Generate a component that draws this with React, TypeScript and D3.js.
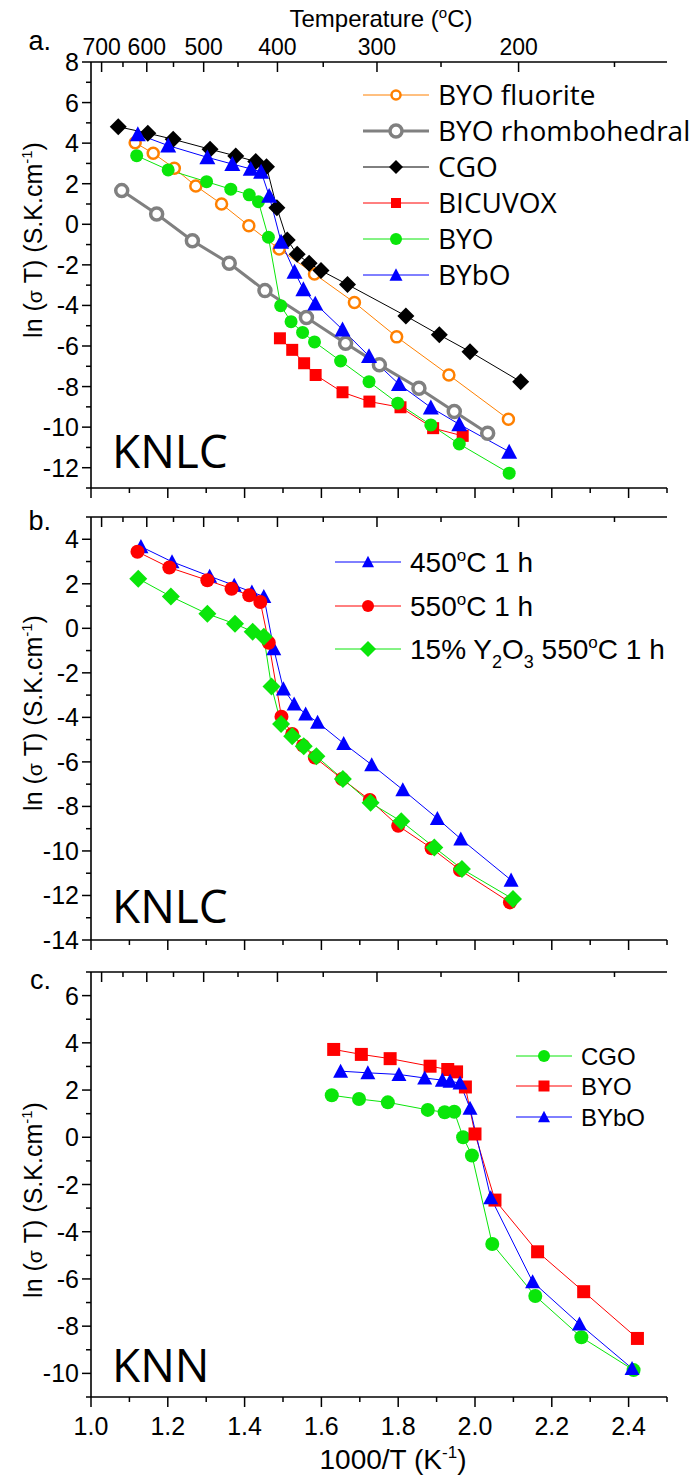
import React from 'react';
import * as d3 from 'd3';

// ---- shared axes ----
const xMajor = [1.0, 1.2, 1.4, 1.6, 1.8, 2.0, 2.2, 2.4];
const xMinor = [1.1, 1.3, 1.5, 1.7, 1.9, 2.1, 2.3, 2.5];
const xLabels = ['1.0', '1.2', '1.4', '1.6', '1.8', '2.0', '2.2', '2.4'];
const tempMajor = [700, 600, 500, 400, 300, 200];
const tempMinor = [650, 550, 450, 350, 250, 150];

// ---- panel a (KNLC, different materials) ----
const aYMajor = [8, 6, 4, 2, 0, -2, -4, -6, -8, -10, -12];
const aYMinor = [7, 5, 3, 1, -1, -3, -5, -7, -9, -11, -13];
const byoFluorite = [[1.115, 4.02], [1.162, 3.5], [1.217, 2.76], [1.273, 1.89], [1.34, 1.0], [1.411, -0.07], [1.49, -1.22], [1.582, -2.45], [1.686, -3.86], [1.796, -5.55], [1.932, -7.43], [2.087, -9.61]];
const byoRhombo = [[1.08, 1.66], [1.171, 0.51], [1.264, -0.81], [1.36, -1.92], [1.453, -3.27], [1.561, -4.6], [1.663, -5.86], [1.751, -6.93], [1.854, -8.08], [1.946, -9.23], [2.033, -10.3]];
const cgoA = [[1.071, 4.81], [1.148, 4.49], [1.214, 4.19], [1.31, 3.7], [1.377, 3.37], [1.429, 3.09], [1.457, 2.84], [1.484, 0.82], [1.511, -0.77], [1.537, -1.48], [1.568, -1.92], [1.599, -2.28], [1.668, -2.97], [1.82, -4.52], [1.907, -5.45], [1.987, -6.28], [2.119, -7.76]];
const bicuvox = [[1.492, -5.62], [1.524, -6.19], [1.555, -6.85], [1.585, -7.43], [1.655, -8.28], [1.725, -8.74], [1.806, -9.02], [1.891, -10.05], [1.968, -10.43]];
const byoA = [[1.119, 3.38], [1.201, 2.68], [1.301, 2.1], [1.364, 1.73], [1.412, 1.45], [1.436, 1.11], [1.462, -0.64], [1.494, -4.01], [1.521, -4.8], [1.551, -5.33], [1.582, -5.8], [1.65, -6.74], [1.724, -7.76], [1.799, -8.82], [1.885, -9.89], [1.959, -10.83], [2.089, -12.27]];
const bybA = [[1.122, 4.44], [1.201, 3.88], [1.303, 3.3], [1.368, 2.97], [1.416, 2.73], [1.443, 2.59], [1.464, 1.4], [1.495, -0.86], [1.53, -2.34], [1.553, -3.2], [1.584, -3.91], [1.655, -5.19], [1.724, -6.5], [1.802, -7.88], [1.885, -9.03], [1.959, -9.86], [2.089, -11.21]];

// ---- panel b (KNLC, sintering) ----
const bYMajor = [4, 2, 0, -2, -4, -6, -8, -10, -12, -14];
const bYMinor = [5, 3, 1, -1, -3, -5, -7, -9, -11, -13];
const b450 = [[1.13, 3.67], [1.211, 2.99], [1.309, 2.34], [1.373, 1.93], [1.419, 1.63], [1.45, 1.43], [1.476, -0.92], [1.501, -2.72], [1.529, -3.4], [1.559, -3.85], [1.59, -4.22], [1.658, -5.17], [1.731, -6.13], [1.812, -7.25], [1.902, -8.54], [1.963, -9.46], [2.094, -11.31]];
const b550 = [[1.121, 3.44], [1.204, 2.73], [1.303, 2.16], [1.366, 1.78], [1.412, 1.48], [1.441, 1.18], [1.463, -0.65], [1.496, -3.97], [1.524, -4.75], [1.552, -5.27], [1.583, -5.8], [1.654, -6.77], [1.726, -7.71], [1.8, -8.87], [1.887, -9.88], [1.961, -10.86], [2.091, -12.31]];
const b15 = [[1.123, 2.23], [1.208, 1.43], [1.303, 0.65], [1.375, 0.2], [1.421, -0.15], [1.45, -0.38], [1.47, -2.61], [1.495, -4.3], [1.524, -4.85], [1.554, -5.3], [1.587, -5.75], [1.656, -6.77], [1.728, -7.84], [1.808, -8.67], [1.894, -9.84], [1.966, -10.81], [2.099, -12.16]];

// ---- panel c (KNN) ----
const cYMajor = [6, 4, 2, 0, -2, -4, -6, -8, -10];
const cYMinor = [7, 5, 3, 1, -1, -3, -5, -7, -9, -11];
const cCgo = [[1.627, 1.78], [1.698, 1.62], [1.773, 1.48], [1.877, 1.16], [1.921, 1.06], [1.946, 1.08], [1.969, 0.0], [1.992, -0.77], [2.045, -4.52], [2.157, -6.72], [2.277, -8.47], [2.413, -9.86]];
const cByo = [[1.632, 3.72], [1.704, 3.51], [1.779, 3.33], [1.883, 3.01], [1.929, 2.87], [1.952, 2.77], [1.975, 2.13], [2.0, 0.14], [2.052, -2.66], [2.163, -4.85], [2.283, -6.54], [2.423, -8.52]];
const cByb = [[1.65, 2.8], [1.721, 2.73], [1.802, 2.66], [1.869, 2.51], [1.915, 2.42], [1.935, 2.37], [1.961, 2.3], [1.987, 1.23], [2.041, -2.56], [2.15, -6.12], [2.272, -7.91], [2.409, -9.79]];

const GREEN = '#0ae60a';
const ORANGE = '#ff8000';
const GRAY = '#808080';
const ARIAL = '"Liberation Sans", Arial, sans-serif';
const CAL = '"Open Sans", sans-serif';

const x = d3.scaleLinear().domain([1.0, 2.5]).range([91, 667]);
const invT = (t: number) => 1000 / (t + 273.15);

type Style = { shape: string; size: number; color: string; fill: string; sw: number; line: number; lineColor: string };

function Marker({ cx, cy, st, size }: { cx: number; cy: number; st: Style; size?: number }) {
  const s = size ?? st.size;
  const common = { fill: st.fill, stroke: st.color, strokeWidth: st.sw };
  if (st.shape === 'circle') return <circle cx={cx} cy={cy} r={s} {...common} />;
  let p = '';
  if (st.shape === 'square') p = `M${-s},${-s}H${s}V${s}H${-s}Z`;
  if (st.shape === 'diamond') p = `M0,${-s}L${s},0L0,${s}L${-s},0Z`;
  if (st.shape === 'triangle') { const h = s * 0.87; p = `M0,${-h / 2 - 1}L${s / 2},${h / 2}L${-s / 2},${h / 2}Z`; }
  return <path d={p} transform={`translate(${cx},${cy})`} {...common} />;
}

type Series = { data: number[][]; st: Style };

function Panel({ top, bottom, domain, major, minor, series, xLabelsOn, tempLabelsOn }:
  { top: number; bottom: number; domain: [number, number]; major: number[]; minor: number[]; series: Series[]; xLabelsOn: boolean; tempLabelsOn: boolean }) {
  const y = d3.scaleLinear().domain(domain).range([bottom, top]);
  const line = d3.line<number[]>().x(d => x(d[0])).y(d => y(d[1]));
  return (
    <g>
      {series.map((s, i) => (
        <path key={'l' + i} d={line(s.data) || ''} fill="none" stroke={s.st.lineColor} strokeWidth={s.st.line} />
      ))}
      {series.map((s, i) => (
        <g key={'m' + i}>
          {s.data.map((d, j) => <Marker key={j} cx={x(d[0])} cy={y(d[1])} st={s.st} />)}
        </g>
      ))}
      {/* axes */}
      <line x1={91} x2={91} y1={top} y2={bottom} stroke="#000" strokeWidth={1.6} />
      <line x1={91} x2={667} y1={bottom} y2={bottom} stroke="#000" strokeWidth={1.6} />
      <line x1={91} x2={667} y1={top} y2={top} stroke="#000" strokeWidth={1.6} />
      {major.map(v => (
        <g key={'ym' + v}>
          <line x1={82} x2={91} y1={y(v)} y2={y(v)} stroke="#000" strokeWidth={1.5} />
          <text x={79} y={y(v)} dy="0.36em" textAnchor="end" fontSize={25} fontFamily={ARIAL}>{v}</text>
        </g>
      ))}
      {minor.map(v => <line key={'yn' + v} x1={86} x2={91} y1={y(v)} y2={y(v)} stroke="#000" strokeWidth={1.5} />)}
      {xMajor.map((v, i) => (
        <g key={'xm' + v}>
          <line x1={x(v)} x2={x(v)} y1={bottom} y2={bottom + 10} stroke="#000" strokeWidth={1.5} />
          {xLabelsOn && <text x={x(v)} y={bottom + 38} textAnchor="middle" fontSize={25} fontFamily={ARIAL}>{xLabels[i]}</text>}
        </g>
      ))}
      {xMinor.map(v => <line key={'xn' + v} x1={x(v)} x2={x(v)} y1={bottom} y2={bottom + 5} stroke="#000" strokeWidth={1.5} />)}
      {tempMajor.map(t => (
        <g key={'tm' + t}>
          <line x1={x(invT(t))} x2={x(invT(t))} y1={top} y2={top + 10} stroke="#000" strokeWidth={1.5} />
          {tempLabelsOn && <text x={x(invT(t))} y={top - 7} textAnchor="middle" fontSize={23} fontFamily={ARIAL}>{t}</text>}
        </g>
      ))}
      {tempMinor.map(t => <line key={'tn' + t} x1={x(invT(t))} x2={x(invT(t))} y1={top} y2={top + 5} stroke="#000" strokeWidth={1.5} />)}
    </g>
  );
}

function YTitle({ cy }: { cy: number }) {
  return (
    <text transform={`translate(42,${cy}) rotate(-90)`} textAnchor="middle" fontSize={25} fontFamily={ARIAL}>
      ln (<tspan fontSize={21}>σ</tspan> T) (S.K.cm<tspan dy={-10} fontSize={15}>-1</tspan><tspan dy={10}>)</tspan>
    </text>
  );
}

function LegendItem({ x1, x2, y, st, label, size, font, fs }:
  { x1: number; x2: number; y: number; st: Style; label: React.ReactNode; size: number; font: string; fs: number }) {
  return (
    <g>
      <line x1={x1} x2={x2} y1={y} y2={y} stroke={st.lineColor} strokeWidth={st.line} />
      <Marker cx={(x1 + x2) / 2} cy={y} st={st} size={size} />
      <text x={x2 + 9} y={y} dy="0.36em" fontSize={fs} fontFamily={font}>{label}</text>
    </g>
  );
}

const sFluor: Style = { shape: 'circle', size: 5.5, color: ORANGE, fill: '#fff', sw: 2.5, line: 1, lineColor: ORANGE };
const sRhombo: Style = { shape: 'circle', size: 6, color: GRAY, fill: '#fff', sw: 3.5, line: 3, lineColor: GRAY };
const sCgo: Style = { shape: 'diamond', size: 8.5, color: '#000', fill: '#000', sw: 0, line: 1, lineColor: '#000' };
const sBicu: Style = { shape: 'square', size: 6, color: 'red', fill: 'red', sw: 0, line: 1, lineColor: 'red' };
const sByo: Style = { shape: 'circle', size: 6.5, color: GREEN, fill: GREEN, sw: 0, line: 1, lineColor: GREEN };
const sByb: Style = { shape: 'triangle', size: 16, color: 'blue', fill: 'blue', sw: 0, line: 1, lineColor: 'blue' };

const sB450: Style = { shape: 'triangle', size: 15, color: 'blue', fill: 'blue', sw: 0, line: 1, lineColor: 'blue' };
const sB550: Style = { shape: 'circle', size: 7, color: 'red', fill: 'red', sw: 0, line: 1, lineColor: 'red' };
const sB15: Style = { shape: 'diamond', size: 9, color: GREEN, fill: GREEN, sw: 0, line: 1, lineColor: GREEN };

const sCCgo: Style = { shape: 'circle', size: 7, color: GREEN, fill: GREEN, sw: 0, line: 1, lineColor: GREEN };
const sCByo: Style = { shape: 'square', size: 6.5, color: 'red', fill: 'red', sw: 0, line: 1, lineColor: 'red' };
const sCByb: Style = { shape: 'triangle', size: 15, color: 'blue', fill: 'blue', sw: 0, line: 1, lineColor: 'blue' };

export default function App() {
  return (
    <svg width={695} height={1477} style={{ position: 'absolute', left: 0, top: 0, background: '#fff' }}>
      <rect width={695} height={1477} fill="#fff" />
      {/* top title */}
      <text x={381} y={27} textAnchor="middle" fontSize={24} fontFamily={ARIAL}>
        Temperature (<tspan dy={-9} fontSize={15}>o</tspan><tspan dy={9}>C)</tspan>
      </text>

      {/* panel a */}
      <Panel top={62} bottom={488} domain={[-13, 8]} major={aYMajor} minor={aYMinor} xLabelsOn={false} tempLabelsOn={true}
        series={[
          { data: byoFluorite, st: sFluor },
          { data: byoRhombo, st: sRhombo },
          { data: cgoA, st: sCgo },
          { data: bicuvox, st: sBicu },
          { data: byoA, st: sByo },
          { data: bybA, st: sByb },
        ]} />
      <text x={51} y={50} textAnchor="end" fontSize={27} fontFamily={ARIAL}>a.</text>
      <YTitle cy={240} />
      <LegendItem x1={363} x2={429} y={95} st={sFluor} size={4.5} label="BYO fluorite" font={CAL} fs={28} />
      <LegendItem x1={363} x2={429} y={131} st={sRhombo} size={6} label="BYO rhombohedral" font={CAL} fs={28} />
      <LegendItem x1={363} x2={429} y={167} st={sCgo} size={7} label="CGO" font={CAL} fs={28} />
      <LegendItem x1={363} x2={429} y={203} st={sBicu} size={5} label="BICUVOX" font={CAL} fs={28} />
      <LegendItem x1={363} x2={429} y={239} st={sByo} size={6} label="BYO" font={CAL} fs={28} />
      <LegendItem x1={363} x2={429} y={275} st={sByb} size={13} label="BYbO" font={CAL} fs={28} />
      <text x={112} y={468} fontSize={46} fontFamily={CAL}>KNLC</text>

      {/* panel b */}
      <Panel top={517} bottom={940} domain={[-14, 5]} major={bYMajor} minor={bYMinor} xLabelsOn={false} tempLabelsOn={false}
        series={[
          { data: b450, st: sB450 },
          { data: b550, st: sB550 },
          { data: b15, st: sB15 },
        ]} />
      <text x={51} y={530} textAnchor="end" fontSize={27} fontFamily={ARIAL}>b.</text>
      <YTitle cy={713} />
      <LegendItem x1={335} x2={401} y={562} st={sB450} size={12} font={ARIAL} fs={28}
        label={<>450<tspan dy={-11} fontSize={17}>o</tspan><tspan dy={11}>C 1 h</tspan></>} />
      <LegendItem x1={335} x2={401} y={606} st={sB550} size={6} font={ARIAL} fs={28}
        label={<>550<tspan dy={-11} fontSize={17}>o</tspan><tspan dy={11}>C 1 h</tspan></>} />
      <LegendItem x1={335} x2={401} y={649} st={sB15} size={8} font={ARIAL} fs={28}
        label={<>15% Y<tspan dy={9} fontSize={18}>2</tspan><tspan dy={-9}>O</tspan><tspan dy={9} fontSize={18}>3</tspan><tspan dy={-9}> 550</tspan><tspan dy={-11} fontSize={17}>o</tspan><tspan dy={11}>C 1 h</tspan></>} />
      <text x={112} y={923} fontSize={46} fontFamily={CAL}>KNLC</text>

      {/* panel c */}
      <Panel top={972} bottom={1397} domain={[-11, 7]} major={cYMajor} minor={cYMinor} xLabelsOn={true} tempLabelsOn={false}
        series={[
          { data: cCgo, st: sCCgo },
          { data: cByo, st: sCByo },
          { data: cByb, st: sCByb },
        ]} />
      <text x={51} y={989} textAnchor="end" fontSize={27} fontFamily={ARIAL}>c.</text>
      <YTitle cy={1200} />
      <LegendItem x1={516} x2={572} y={1056} st={sCCgo} size={6} label="CGO" font={ARIAL} fs={24} />
      <LegendItem x1={516} x2={572} y={1086} st={sCByo} size={5.5} label="BYO" font={ARIAL} fs={24} />
      <LegendItem x1={516} x2={572} y={1117} st={sCByb} size={12} label="BYbO" font={ARIAL} fs={24} />
      <text x={112} y={1382} fontSize={46} fontFamily={CAL}>KNN</text>

      <text x={393} y={1469} textAnchor="middle" fontSize={28} fontFamily={ARIAL}>
        1000/T (K<tspan dy={-11} fontSize={17}>-1</tspan><tspan dy={11}>)</tspan>
      </text>
    </svg>
  );
}
